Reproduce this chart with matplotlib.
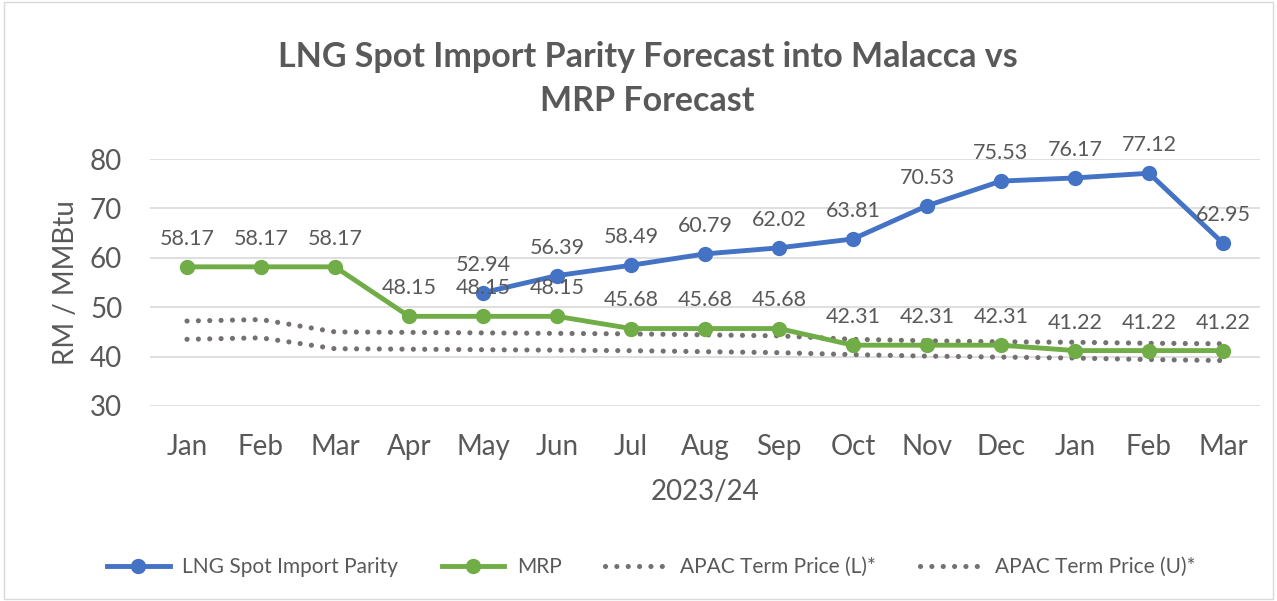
import numpy as np
import matplotlib.pyplot as plt
from matplotlib.patches import Rectangle

months = ["Jan", "Feb", "Mar", "Apr", "May", "Jun", "Jul", "Aug",
          "Sep", "Oct", "Nov", "Dec", "Jan", "Feb", "Mar"]
lng = [np.nan, np.nan, np.nan, np.nan, 52.94, 56.39, 58.49, 60.79,
       62.02, 63.81, 70.53, 75.53, 76.17, 77.12, 62.95]
mrp = [58.17, 58.17, 58.17, 48.15, 48.15, 48.15, 45.68, 45.68,
       45.68, 42.31, 42.31, 42.31, 41.22, 41.22, 41.22]
apac_u = [47.2, 47.5, 45.0, 44.9, 44.8, 44.7, 44.6, 44.4,
          44.2, 43.5, 43.2, 43.0, 42.9, 42.7, 42.6]
apac_l = [43.5, 43.8, 41.6, 41.5, 41.4, 41.3, 41.2, 41.0,
          40.8, 40.4, 40.1, 39.9, 39.7, 39.4, 39.2]

plt.rcParams['font.family'] = ['Lato', 'DejaVu Sans']
txt = "#595959"
blue = "#4472C4"
green = "#70AD47"
dot = "#767171"

fig = plt.figure(figsize=(12.77, 6.01), dpi=100)
ax = fig.add_axes([150/1277, 1 - 406/601, 1110/1277, 247/601])
x = np.arange(len(months))

dots = (0, (0.01, 2.2))
ax.plot(x, apac_l, linestyle=dots, color=dot, lw=3.7, dash_capstyle="round",
        label="APAC Term Price (L)*")
ax.plot(x, apac_u, linestyle=dots, color=dot, lw=3.7, dash_capstyle="round",
        label="APAC Term Price (U)*")
ax.plot(x, mrp, color=green, lw=3.5, marker="o", ms=10, label="MRP")
ax.plot(x, lng, color=blue, lw=3.5, marker="o", ms=10, label="LNG Spot Import Parity")

for i in range(len(x)):
    if not np.isnan(lng[i]):
        ax.annotate(f"{lng[i]:.2f}", (x[i], lng[i]), xytext=(0, 13), textcoords="offset points",
                    ha="center", va="bottom", fontsize=15.5, color=txt)
    ax.annotate(f"{mrp[i]:.2f}", (x[i], mrp[i]), xytext=(0, 13), textcoords="offset points",
                ha="center", va="bottom", fontsize=15.5, color=txt)

ax.set_xlim(-0.5, len(x) - 0.5)
ax.set_ylim(30, 80)
ax.set_yticks(range(30, 81, 10))
ax.set_xticks(x)
ax.set_xticklabels(months)
ax.grid(axis="y", color="#D9D9D9", lw=1.2)
ax.set_axisbelow(True)
for s in ax.spines.values():
    s.set_visible(False)
ax.tick_params(length=0, labelsize=20, labelcolor=txt)
ax.tick_params(axis="y", pad=20)
ax.tick_params(axis="x", pad=20)
ax.set_xlabel("2023/24", fontsize=20, color=txt, labelpad=14)
ax.set_ylabel("RM / MMBtu", fontsize=20, color=txt, labelpad=8)

fig.text(0.507, 1 - 79/601, "LNG Spot Import Parity Forecast into Malacca vs\nMRP Forecast",
         ha="center", va="center", fontsize=24.5, fontweight="bold", color=txt, linespacing=1.45)

h, l = ax.get_legend_handles_labels()
order = [3, 2, 0, 1]
leg = fig.legend([h[i] for i in order], [l[i] for i in order], loc="center",
                 bbox_to_anchor=(0.51, 1 - 567/601), ncol=4, frameon=False,
                 fontsize=15, labelcolor=txt, handlelength=3.0, handletextpad=0.6,
                 columnspacing=2.1)

fig.patches.append(Rectangle((0.003, 0.003), 0.994, 0.994, transform=fig.transFigure,
                             fill=False, edgecolor="#D9D9D9", lw=1))

fig.savefig("out.png", dpi=100)
